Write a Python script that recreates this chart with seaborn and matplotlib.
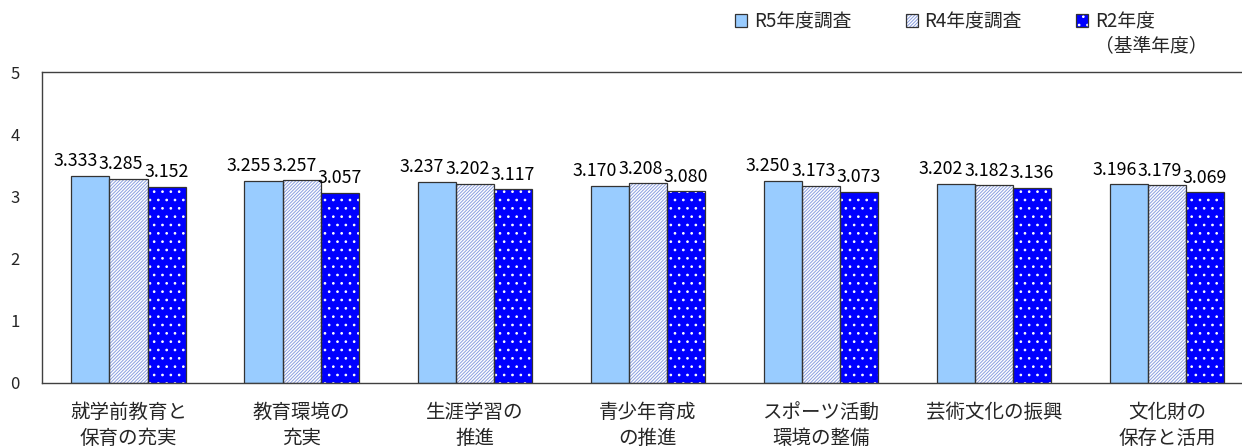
import pandas as pd
import matplotlib.pyplot as plt
import seaborn as sns
from matplotlib.patches import Patch, Rectangle
from matplotlib.legend_handler import HandlerTuple

# data
categories = ['就学前教育と\n保育の充実', '教育環境の\n充実', '生涯学習の\n推進', '青少年育成\nの推進',
              'スポーツ活動\n環境の整備', '芸術文化の振興', '文化財の\n保存と活用']
series = ['R5年度調査', 'R4年度調査', 'R2年度\n（基準年度）']
r5 = [3.333, 3.255, 3.237, 3.170, 3.250, 3.202, 3.196]
r4 = [3.285, 3.257, 3.202, 3.208, 3.173, 3.182, 3.179]
r2 = [3.152, 3.057, 3.117, 3.080, 3.073, 3.136, 3.069]

face_colors = ['#99CCFF', '#FFFFFF', '#0000FF']
hatch_colors = ['#99CCFF', '#8A9FE0', '#FFFFFF']
hatches = [None, '//////////', '..']
outline = '#333333'

df = pd.DataFrame({
    'cat': categories * 3,
    'series': [series[0]] * 7 + [series[1]] * 7 + [series[2]] * 7,
    'value': r5 + r4 + r2,
})

sns.set_style('white')
plt.rcParams['font.family'] = ['Noto Sans CJK JP', 'DejaVu Sans']
plt.rcParams['hatch.linewidth'] = 0.7

DPI = 100
fig = plt.figure(figsize=(12.42, 4.47), dpi=DPI)
ax = fig.add_axes([0.0338, 0.1432, 0.9755, 0.6957])

sns.barplot(data=df, x='cat', y='value', hue='series', palette=face_colors,
            width=0.66, gap=0, legend=False, ax=ax, linewidth=0, saturation=1)

# hatch colour follows edge colour, so draw the outline separately
labels = []
for i, cont in enumerate(ax.containers):
    for p in cont.patches:
        p.set_facecolor(face_colors[i])
        p.set_edgecolor(hatch_colors[i])
        p.set_linewidth(0)
        if hatches[i]:
            p.set_hatch(hatches[i])
        ax.add_patch(Rectangle((p.get_x(), p.get_y()), p.get_width(), p.get_height(),
                               fill=False, edgecolor=outline, linewidth=0.9, zorder=3))
    labels.append(ax.bar_label(cont, fmt='%.3f', padding=4, fontsize=12.8, color='black'))

ax.set_ylim(0, 5)
ax.set_xlim(-0.5, 6.5)
ax.set_yticks(range(6))
ax.set_xlabel('')
ax.set_ylabel('')
ax.tick_params(axis='y', length=0, pad=16, labelsize=12)
ax.tick_params(axis='x', length=0, pad=14, labelsize=14)
for lbl in ax.get_xticklabels():
    lbl.set_linespacing(1.3)

for s in ax.spines.values():
    s.set_color('#404040')
    s.set_linewidth(1.0)

handles = []
for i in range(3):
    fillp = Patch(facecolor=face_colors[i], edgecolor=hatch_colors[i], hatch=hatches[i], linewidth=0)
    edgep = Patch(fill=False, edgecolor=outline, linewidth=0.9)
    handles.append((fillp, edgep))

leg_labels = [s.split('\n')[0] for s in series]
leg = fig.legend(handles, leg_labels, handler_map={tuple: HandlerTuple(ndivide=1)},
                 loc='upper left', bbox_to_anchor=(0.592, 0.975), ncol=3, frameon=False,
                 fontsize=13.5, handlelength=0.65, handleheight=0.65, handletextpad=0.35,
                 columnspacing=2.9, borderpad=0, borderaxespad=0)

fig.canvas.draw()
renderer = fig.canvas.get_renderer()

# second line of the R2 legend entry, under its first line
t = leg.get_texts()[2]
bb = t.get_window_extent(renderer)
fig.text(bb.x0 / fig.bbox.width, (bb.y0 - 3) / fig.bbox.height, series[2].split('\n')[1],
         fontsize=13.5, ha='left', va='top')

# push value labels left where they collide with the one on their right
for j in range(len(categories)):
    for i in (1, 0):
        a, b = labels[i][j], labels[i + 1][j]
        ba, bb2 = a.get_window_extent(renderer), b.get_window_extent(renderer)
        over = ba.x1 - bb2.x0 + 1
        if over > 0 and ba.y0 < bb2.y1 and bb2.y0 < ba.y1:
            dx, dy = a.xyann
            a.xyann = (dx - over * 72 / DPI, dy)

fig.savefig('out.png', dpi=DPI)
